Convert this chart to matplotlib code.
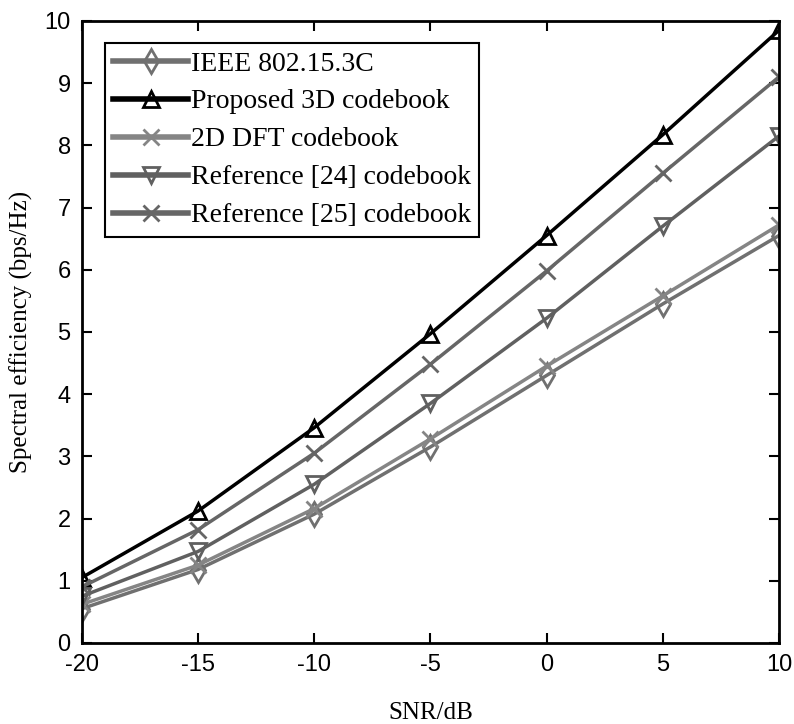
import matplotlib
matplotlib.use("Agg")
import matplotlib.pyplot as plt

plt.rcParams["axes.unicode_minus"] = False

snr = [-20, -15, -10, -5, 0, 5, 10]
ieee = [0.55, 1.18, 2.07, 3.15, 4.30, 5.45, 6.55]
proposed = [1.05, 2.12, 3.46, 4.97, 6.55, 8.17, 9.85]
dft2d = [0.62, 1.25, 2.16, 3.28, 4.45, 5.58, 6.72]
ref24 = [0.75, 1.47, 2.55, 3.85, 5.22, 6.70, 8.15]
ref25 = [0.90, 1.82, 3.05, 4.48, 5.98, 7.55, 9.10]

labels = ["IEEE 802.15.3C", "Proposed 3D codebook", "2D DFT codebook",
          "Reference [24] codebook", "Reference [25] codebook"]

fig = plt.figure(figsize=(7.94, 7.24), dpi=100)
ax = fig.add_axes([0.103, 0.112, 0.878, 0.859])

serif = ["Liberation Serif", "DejaVu Serif"]
sans = ["Liberation Sans", "DejaVu Sans"]

ax.plot(snr, ieee, color="#707070", lw=2.5, marker="d", ms=12, mfc="none", mew=2, label=labels[0])
ax.plot(snr, proposed, color="black", lw=2.5, marker="^", ms=12, mfc="none", mew=2, label=labels[1])
ax.plot(snr, dft2d, color="#858585", lw=2.5, marker="x", ms=11, mew=2, label=labels[2])
ax.plot(snr, ref24, color="#606060", lw=2.5, marker="v", ms=12, mfc="none", mew=2, label=labels[3])
ax.plot(snr, ref25, color="#666666", lw=2.5, marker="x", ms=11, mew=2, label=labels[4])

ax.set_xlim(-20, 10)
ax.set_ylim(0, 10)
ax.set_xticks(snr)
ax.set_yticks(range(0, 11))
ax.tick_params(direction="in", length=7, width=1.5, labelsize=17, top=True, right=True, pad=8)
for t in ax.get_xticklabels() + ax.get_yticklabels():
    t.set_fontfamily(sans)
for s in ax.spines.values():
    s.set_linewidth(2)

ax.set_xlabel("SNR/dB", fontsize=18, family=serif, labelpad=19)
ax.set_ylabel("Spectral efficiency (bps/Hz)", fontsize=18, family=serif, labelpad=8)

leg = ax.legend(loc="upper left", bbox_to_anchor=(0.033, 0.965), prop={"family": serif, "size": 20},
                fancybox=False, edgecolor="black", framealpha=1, handlelength=2.7,
                handletextpad=0.1, labelspacing=0.45, borderpad=0.3, borderaxespad=0)
leg.get_frame().set_linewidth(1.5)
for h in leg.get_lines():
    h.set_linewidth(4)

fig.savefig("out.png", dpi=100)
